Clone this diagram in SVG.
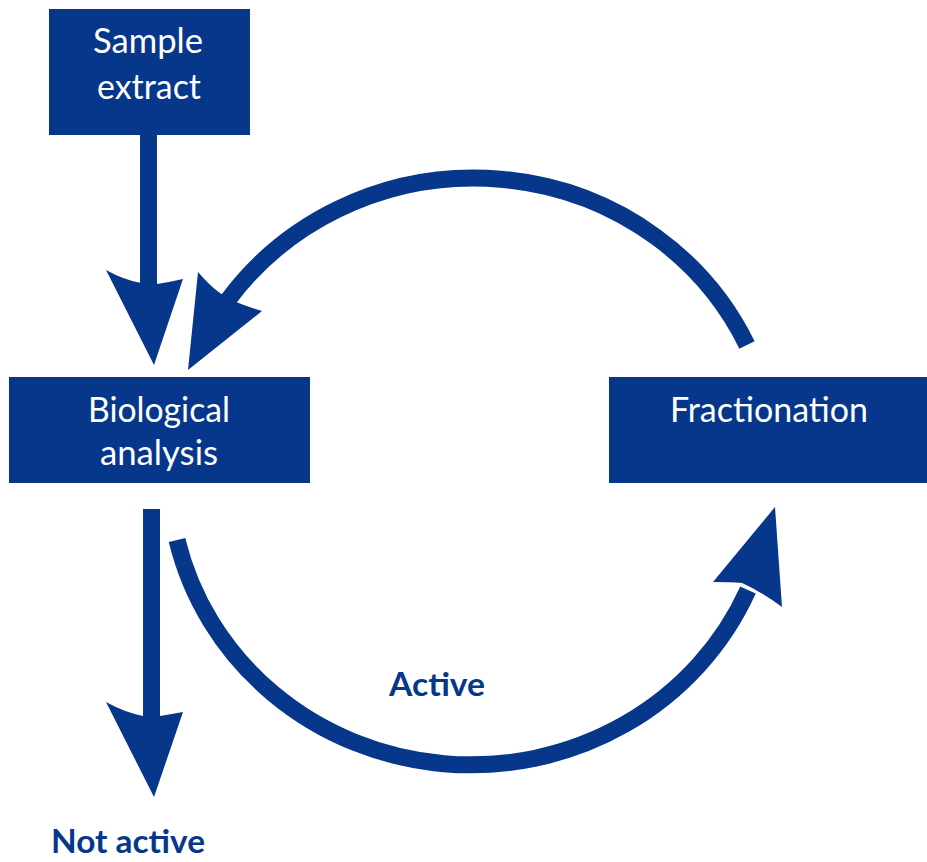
<svg xmlns="http://www.w3.org/2000/svg" width="927" height="862" viewBox="0 0 927 862">
  <style>
    .box { fill: #07378B; }
    .lbl { font-family: Lato, "Open Sans", "Liberation Sans", sans-serif; font-size: 34px; fill: #FFFFFF; text-anchor: middle; }
    .out { font-family: Lato, "Open Sans", "Liberation Sans", sans-serif; font-size: 32px; font-weight: bold; fill: #07378B; text-anchor: middle; }
    .shaft { fill: none; stroke: #07378B; stroke-width: 17; stroke-linecap: butt; }
    .head { fill: #07378B; }
  </style>
  <rect width="927" height="862" fill="#FFFFFF"/>

  <g id="connectors">
    <!-- Sample extract -> Biological analysis -->
    <rect class="head" x="140" y="135" width="17" height="152"/>
    <path class="head" d="M106,270 Q124,280 141,283 L157,284 Q170,282 183,279 L154,365 Z"/>

    <!-- Fractionation -> Biological analysis (upper arc) -->
    <path class="shaft" d="M747,345 A302,291 0 0 0 228,300"/>
    <path class="head" d="M198,272 Q210,286 220,293 Q234,303 262,311 L188,370 Z"/>

    <!-- Biological analysis -> Fractionation (lower arc, Active) -->
    <path class="shaft" d="M177,540 A302,291 0 0 0 748,590"/>
    <path class="head" d="M713,582 Q730,582 742,583 Q762,592 782,607 L775,507 Z"/>

    <!-- Biological analysis -> Not active -->
    <rect class="head" x="143" y="509" width="17" height="210"/>
    <path class="head" d="M106,702 Q124,712 143,716 L160,716 Q172,714 183,712 L154,797 Z"/>
  </g>

  <g id="sample-extract">
    <rect class="box" x="49" y="9" width="201" height="126"/>
    <text class="lbl" x="148" y="53" textLength="110" lengthAdjust="spacingAndGlyphs">Sample</text>
    <text class="lbl" x="149" y="99" textLength="104" lengthAdjust="spacingAndGlyphs">extract</text>
  </g>

  <g id="biological-analysis">
    <rect class="box" x="9" y="377" width="301" height="106"/>
    <text class="lbl" x="159" y="422" textLength="142" lengthAdjust="spacingAndGlyphs">Biological</text>
    <text class="lbl" x="159" y="465" textLength="118" lengthAdjust="spacingAndGlyphs">analysis</text>
  </g>

  <g id="fractionation">
    <rect class="box" x="609" y="377" width="318" height="106"/>
    <text class="lbl" x="769" y="422" textLength="198" lengthAdjust="spacingAndGlyphs">Fractionation</text>
  </g>

  <g id="label-active">
    <text class="out" x="437" y="696" textLength="96" lengthAdjust="spacingAndGlyphs">Active</text>
  </g>

  <g id="label-not-active">
    <text class="out" x="128" y="853" textLength="154" lengthAdjust="spacingAndGlyphs">Not active</text>
  </g>
</svg>
